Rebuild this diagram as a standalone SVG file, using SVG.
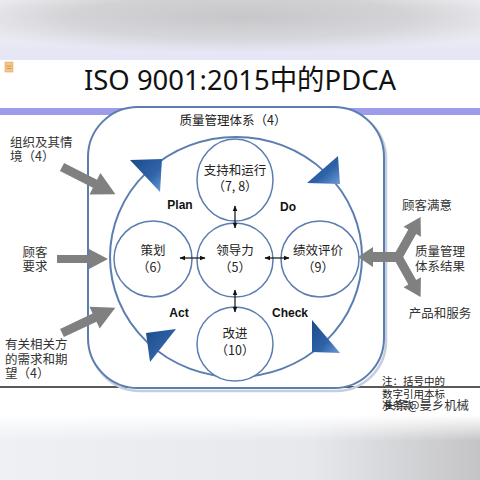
<svg xmlns="http://www.w3.org/2000/svg" width="480" height="480" viewBox="0 0 480 480">
  <defs>
    <style>
      .cn { font-family: "Noto Sans CJK SC", "Noto Sans", sans-serif; font-size: 12.5px; fill: #222; }
      .side { font-family: "Noto Sans CJK SC", "Noto Sans", sans-serif; font-size: 12.5px; fill: #333; }
      .pd { font-family: "Liberation Sans", "Noto Sans", sans-serif; font-size: 12px; font-weight: bold; fill: #111; }
      .node { fill: #ffffff; stroke: #5b7db0; stroke-width: 1.5; }
      .garrow { fill: #808080; }
      .tri { fill: url(#triGrad); }
      .link { stroke: #111; stroke-width: 1.2; fill: none; marker-start: url(#ah); marker-end: url(#ah); }
    </style>
    <radialGradient id="topGrad" cx="0.5" cy="0.3" r="0.6">
      <stop offset="0" stop-color="#c4c4c4"/>
      <stop offset="0.6" stop-color="#d2d2d4"/>
      <stop offset="1" stop-color="#eeeef2"/>
    </radialGradient>
    <linearGradient id="topTint" x1="0" y1="0" x2="0" y2="1">
      <stop offset="0" stop-color="#e0e0f4" stop-opacity="0"/>
      <stop offset="0.7" stop-color="#e0e0f4" stop-opacity="0.3"/>
      <stop offset="1" stop-color="#e4e4f8" stop-opacity="0.9"/>
    </linearGradient>
    <linearGradient id="botGrad" x1="0" y1="0" x2="1" y2="0">
      <stop offset="0" stop-color="#eef0f4"/>
      <stop offset="0.65" stop-color="#e6e8ec"/>
      <stop offset="1" stop-color="#c4c4c6"/>
    </linearGradient>
    <linearGradient id="botFade" x1="0" y1="0" x2="0" y2="1">
      <stop offset="0" stop-color="#ffffff" stop-opacity="1"/>
      <stop offset="0.4" stop-color="#ffffff" stop-opacity="0"/>
    </linearGradient>
    <linearGradient id="triGrad" x1="0" y1="0" x2="1" y2="1">
      <stop offset="0" stop-color="#1c4a88"/>
      <stop offset="0.6" stop-color="#2f63a8"/>
      <stop offset="1" stop-color="#6d9bd6"/>
    </linearGradient>
    <marker id="ah" viewBox="0 0 10 10" refX="9" refY="5" markerWidth="6" markerHeight="6" markerUnits="userSpaceOnUse" orient="auto-start-reverse">
      <path d="M0,1 L10,5 L0,9 Z" fill="#111"/>
    </marker>
  </defs>

  <!-- background -->
  <rect x="0" y="0" width="480" height="480" fill="#ffffff"/>
  <rect x="0" y="0" width="480" height="60" fill="url(#topGrad)"/>
  <rect x="0" y="0" width="480" height="60" fill="url(#topTint)"/>
  <rect x="0" y="415" width="480" height="65" fill="url(#botGrad)"/>
  <rect x="0" y="415" width="480" height="65" fill="url(#botFade)"/>
  <rect x="5" y="62" width="8" height="10" fill="#f2c58a" stroke="#e0a860" stroke-width="0.6"/>
  <line x1="6.5" y1="66" x2="11.5" y2="66" stroke="#d08a40" stroke-width="0.8"/>
  <line x1="6.5" y1="68.5" x2="11.5" y2="68.5" stroke="#d08a40" stroke-width="0.8"/>

  <!-- title -->
  <text x="240" y="90" text-anchor="middle" font-family="Noto Sans, Noto Sans CJK SC, sans-serif" font-size="28" fill="#111" textLength="312" lengthAdjust="spacingAndGlyphs">ISO 9001:2015中的PDCA</text>

  <!-- lavender bar and black line -->
  <rect x="0" y="108" width="480" height="7" fill="#9c9cea"/>
  <line x1="0" y1="387" x2="480" y2="387" stroke="#222" stroke-width="1.5"/>

  <!-- QMS frame -->
  <g id="qms">
    <rect x="90" y="109" width="296" height="282" rx="50" ry="50" fill="none" stroke="#c4cedc" stroke-width="2.5"/>
    <rect x="88" y="107" width="296" height="281" rx="50" ry="50" fill="#ffffff" stroke="#5b7db0" stroke-width="2"/>
    <text class="cn" x="233" y="125" text-anchor="middle">质量管理体系（4）</text>
  </g>

  <!-- PDCA cycle -->
  <g id="cycle">
    <ellipse cx="236" cy="257" rx="126" ry="120" fill="none" stroke="#5b7db0" stroke-width="2"/>
    <polygon class="tri" points="130,160 162,159 160,192"/>
    <polygon class="tri" points="307,183 340,184 338,156"/>
    <polygon class="tri" points="312,320 340,353 312,352"/>
    <polygon class="tri" points="146,333 176,329 150,362"/>
    <text class="pd" x="180" y="209" text-anchor="middle">Plan</text>
    <text class="pd" x="288" y="211" text-anchor="middle">Do</text>
    <text class="pd" x="179" y="317" text-anchor="middle">Act</text>
    <text class="pd" x="290" y="317" text-anchor="middle">Check</text>
  </g>

  <g id="support">
    <ellipse class="node" cx="235" cy="180" rx="38" ry="41"/>
    <text class="cn" x="235" y="175" text-anchor="middle">支持和运行</text>
    <text class="cn" x="235" y="191" text-anchor="middle">（7, 8）</text>
  </g>
  <g id="leadership">
    <ellipse class="node" cx="235" cy="260" rx="38" ry="37"/>
    <text class="cn" x="235" y="255" text-anchor="middle">领导力</text>
    <text class="cn" x="235" y="272" text-anchor="middle">（5）</text>
  </g>
  <g id="planning">
    <ellipse class="node" cx="153" cy="259" rx="39" ry="38"/>
    <text class="cn" x="153" y="255" text-anchor="middle">策划</text>
    <text class="cn" x="153" y="272" text-anchor="middle">（6）</text>
  </g>
  <g id="evaluation">
    <ellipse class="node" cx="320" cy="259" rx="39" ry="38"/>
    <text class="cn" x="318" y="255" text-anchor="middle">绩效评价</text>
    <text class="cn" x="318" y="272" text-anchor="middle">（9）</text>
  </g>
  <g id="improvement">
    <ellipse class="node" cx="235" cy="344" rx="38" ry="37"/>
    <text class="cn" x="235" y="338" text-anchor="middle">改进</text>
    <text class="cn" x="235" y="355" text-anchor="middle">（10）</text>
  </g>

  <!-- connectors -->
  <g id="connectors">
    <line class="link" x1="235" y1="206" x2="235" y2="228"/>
    <line class="link" x1="235" y1="290" x2="235" y2="312"/>
    <line class="link" x1="180" y1="258" x2="205" y2="258"/>
    <line class="link" x1="265" y1="258" x2="289" y2="258"/>
    <polygon class="garrow" transform="translate(62,167) rotate(27)" points="0,-4.5 37,-4.5 37,-12 60,0 37,12 37,4.5 0,4.5"/>
    <polygon class="garrow" points="57,255 89,255 89,249 108,259 89,269 89,263 57,263"/>
    <polygon class="garrow" transform="translate(62,333) rotate(-25.3)" points="0,-4.5 36,-4.5 36,-12 59,0 36,12 36,4.5 0,4.5"/>
    <polygon class="garrow" points="358,257 373,247 373,252 402,252 402,262 373,262 373,267"/>
    <polygon class="garrow" transform="translate(398,257) rotate(-60.6)" points="0,-4.5 29,-4.5 29,-10 46,0 29,10 29,4.5 0,4.5"/>
    <polygon class="garrow" transform="translate(398,257) rotate(60.6)" points="0,-4.5 29,-4.5 29,-10 46,0 29,10 29,4.5 0,4.5"/>
  </g>

  <!-- side labels -->
  <g id="context">
    <text class="side" x="10" y="147">组织及其情</text>
    <text class="side" x="10" y="161">境（4）</text>
  </g>
  <g id="customer-req">
    <text class="side" x="35" y="257" text-anchor="middle">顾客</text>
    <text class="side" x="35" y="271" text-anchor="middle">要求</text>
  </g>
  <g id="interested">
    <text class="side" x="5" y="349">有关相关方</text>
    <text class="side" x="5" y="364">的需求和期</text>
    <text class="side" x="5" y="378">望（4）</text>
  </g>
  <g id="satisfaction">
    <text class="side" x="427" y="210" text-anchor="middle">顾客满意</text>
  </g>
  <g id="results">
    <text class="side" x="440" y="256" text-anchor="middle">质量管理</text>
    <text class="side" x="440" y="271" text-anchor="middle">体系结果</text>
  </g>
  <g id="products">
    <text class="side" x="440" y="318" text-anchor="middle">产品和服务</text>
  </g>

  <!-- note -->
  <g id="note" font-family="Noto Sans CJK SC, Noto Sans, sans-serif" fill="#222">
    <text x="382" y="385" font-size="10.5">注：括号中的</text>
    <text x="382" y="398" font-size="10.5">数字引用本标</text>
    <text x="382" y="409" font-size="10.5">准条款</text>
    <text x="383" y="410" font-size="12.5" fill="#333" textLength="86" lengthAdjust="spacingAndGlyphs">头条@曼乡机械</text>
  </g>
</svg>
